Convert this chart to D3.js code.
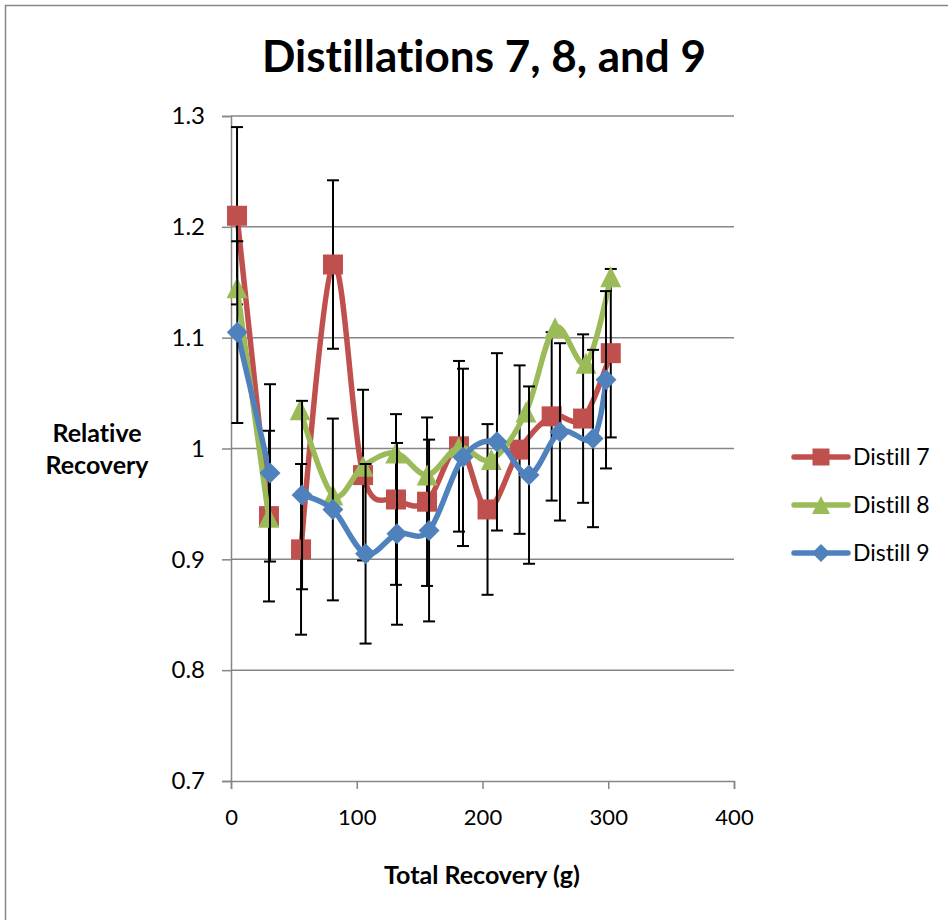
<!DOCTYPE html>
<html>
<head>
<meta charset="utf-8">
<script src="https://cdn.jsdelivr.net/npm/d3@7"></script>
<style>
  html, body { margin: 0; padding: 0; background: #fff; }
  svg { display: block; font-family: Lato, "Open Sans", "DejaVu Sans", sans-serif; font-variant-ligatures: none; }
  svg text { font-variant-ligatures: none; font-feature-settings: "liga" 0, "clig" 0; }
</style>
</head>
<body>
<svg id="chart" width="948" height="920"></svg>
<script>
// ---- data ----
const title = "Distillations 7, 8, and 9";
const xTitle = "Total Recovery (g)";
const yTitleLines = ["Relative", "Recovery"];
const xTicks = [0, 100, 200, 300, 400];
const yTicks = [0.7, 0.8, 0.9, 1.0, 1.1, 1.2, 1.3];
const seriesNames = ["Distill 7", "Distill 8", "Distill 9"];
const seriesColors = ["#C0504D", "#9BBB59", "#4F81BD"];
const seriesSymbols = ["square", "triangle", "diamond"];

const x7 = [4.8, 30.2, 55.7, 81.1, 105, 131.2, 155.9, 181.3, 204, 229.5, 255, 280, 302];
const y7 = [1.210, 0.939, 0.909, 1.166, 0.976, 0.954, 0.952, 1.002, 0.945, 0.999, 1.029, 1.027, 1.086];
const e7 = [0.080, 0.077, 0.077, 0.076, 0.077, 0.077, 0.076, 0.077, 0.077, 0.076, 0.076, 0.076, 0.076];

const x8 = [4.8, 30, 55, 81, 105, 131, 156, 181, 207, 234.6, 257.7, 282.3, 302];
const y8 = [1.145, 0.938, 1.035, 0.958, 0.984, 0.996, 0.976, 1.001, 0.990, 1.033, 1.109, 1.077, 1.155];
const e8 = [0, 0, 0, 0, 0, 0, 0, 0, 0, 0, 0, 0, 0];

const x9 = [5, 31, 56.5, 81, 107, 132, 157.5, 184.5, 211.5, 237, 261.6, 287.9, 298.2];
const y9 = [1.105, 0.978, 0.958, 0.945, 0.905, 0.923, 0.926, 0.992, 1.006, 0.976, 1.015, 1.009, 1.062];
const e9 = [0.082, 0.080, 0.085, 0.082, 0.081, 0.082, 0.082, 0.080, 0.080, 0.080, 0.080, 0.080, 0.080];

// line breaks after this index (gap in the plotted line)
const breakAfter = 1;

// ---- layout ----
const svg = d3.select("#chart");
const plot = { left: 231, right: 734, top: 116, bottom: 781 };
const xScale = d3.scaleLinear().domain([0, 400]).range([plot.left, plot.right]);
const yScale = d3.scaleLinear().domain([0.7, 1.3]).range([plot.bottom, plot.top]);
const gridColor = "#868686";

// outer border
svg.append("rect").attr("x", 5.5).attr("y", 5.5).attr("width", 1000).attr("height", 1000)
  .attr("fill", "none").attr("stroke", gridColor).attr("stroke-width", 1.5);

// title
svg.append("text").attr("x", 484).attr("y", 72).attr("text-anchor", "middle")
  .attr("font-size", 44).attr("font-weight", "bold").attr("fill", "#000").text(title);

// gridlines
svg.append("g").selectAll("line").data(yTicks.filter(d => d > 0.7)).join("line")
  .attr("x1", plot.left).attr("x2", plot.right)
  .attr("y1", d => yScale(d)).attr("y2", d => yScale(d))
  .attr("stroke", gridColor).attr("stroke-width", 1.5);

// y axis
const yAxis = d3.axisLeft(yScale).tickValues(yTicks).tickSize(9).tickPadding(17)
  .tickFormat(d => d3.format("")(+d.toFixed(1)));
const gy = svg.append("g").attr("transform", `translate(${plot.left},0)`).call(yAxis);
gy.select(".domain").attr("stroke", gridColor).attr("stroke-width", 1.5);
gy.selectAll(".tick line").attr("stroke", gridColor).attr("stroke-width", 1.5);
gy.selectAll(".tick text").attr("font-size", 24).attr("fill", "#000")
  .attr("font-family", "Lato, 'Open Sans', sans-serif");

// x axis
const xAxis = d3.axisBottom(xScale).tickValues(xTicks).tickSize(8).tickPadding(20);
const gx = svg.append("g").attr("transform", `translate(0,${plot.bottom})`).call(xAxis);
gx.select(".domain").attr("stroke", gridColor).attr("stroke-width", 1.5);
gx.selectAll(".tick line").attr("stroke", gridColor).attr("stroke-width", 1.5);
gx.selectAll(".tick text").attr("font-size", 22).attr("fill", "#000")
  .attr("font-family", "Lato, 'Open Sans', sans-serif");

// axis titles
svg.append("text").attr("x", 482).attr("y", 884).attr("text-anchor", "middle")
  .attr("font-size", 25).attr("font-weight", "bold").text(xTitle);
svg.append("g").selectAll("text").data(yTitleLines).join("text")
  .attr("x", 97).attr("y", (d, i) => 442 + i * 32).attr("text-anchor", "middle")
  .attr("font-size", 25).attr("font-weight", "bold").text(d => d);

// series
const series = [
  { xs: x7, ys: y7, es: e7 },
  { xs: x8, ys: y8, es: e8 },
  { xs: x9, ys: y9, es: e9 }
].map((s, i) => ({
  name: seriesNames[i], color: seriesColors[i], symbol: seriesSymbols[i],
  points: s.xs.map((x, j) => ({ x, y: s.ys[j], e: s.es[j] }))
}));

const line = d3.line().x(d => xScale(d.x)).y(d => yScale(d.y))
  .curve(d3.curveCardinal.tension(0));

function drawMarker(g, symbol, color, cx, cy, size) {
  const h = size / 2;
  if (symbol === "square") {
    g.append("rect").attr("x", cx - h).attr("y", cy - h).attr("width", size).attr("height", size)
      .attr("fill", color);
  } else if (symbol === "triangle") {
    g.append("path").attr("d", `M${cx},${cy - h} L${cx + h},${cy + h} L${cx - h},${cy + h} Z`)
      .attr("fill", color);
  } else {
    g.append("path").attr("d", `M${cx},${cy - h} L${cx + h},${cy} L${cx},${cy + h} L${cx - h},${cy} Z`)
      .attr("fill", color);
  }
}

series.forEach(s => {
  const g = svg.append("g");
  const segs = [s.points.slice(0, breakAfter + 1), s.points.slice(breakAfter + 1)];
  segs.forEach(seg => {
    g.append("path").attr("d", line(seg)).attr("fill", "none")
      .attr("stroke", s.color).attr("stroke-width", 5.5)
      .attr("stroke-linejoin", "round").attr("stroke-linecap", "round");
  });
  // error bars
  s.points.filter(p => p.e > 0).forEach(p => {
    const px = xScale(p.x);
    const y1 = yScale(p.y + p.e), y2 = yScale(p.y - p.e);
    g.append("line").attr("x1", px).attr("x2", px).attr("y1", y1).attr("y2", y2)
      .attr("stroke", "#000").attr("stroke-width", 2);
    [y1, y2].forEach(yy => g.append("line").attr("x1", px - 6).attr("x2", px + 6)
      .attr("y1", yy).attr("y2", yy).attr("stroke", "#000").attr("stroke-width", 2));
  });
  s.points.forEach(p => drawMarker(g, s.symbol, s.color, xScale(p.x), yScale(p.y), s.symbol === "square" ? 20 : 21));
});

// legend
const legendY = [457, 505, 553];
series.forEach((s, i) => {
  const g = svg.append("g");
  g.append("line").attr("x1", 794).attr("x2", 848).attr("y1", legendY[i]).attr("y2", legendY[i])
    .attr("stroke", s.color).attr("stroke-width", 5.5).attr("stroke-linecap", "round");
  drawMarker(g, s.symbol, s.color, 821, legendY[i], s.symbol === "square" ? 17 : 18);
  g.append("text").attr("x", 853).attr("y", legendY[i] + 8).attr("font-size", 23)
    .attr("fill", "#000").text(s.name);
});
</script>
</body>
</html>
